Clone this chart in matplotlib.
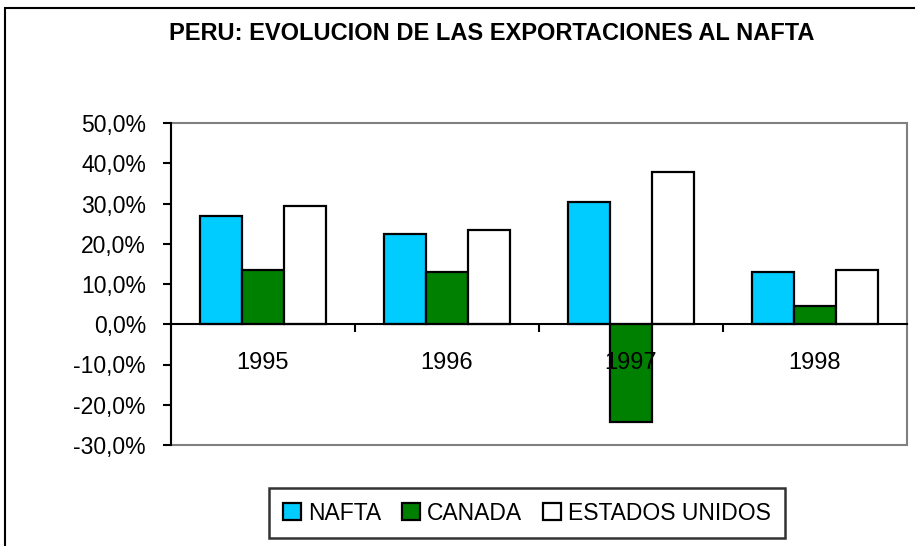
import matplotlib.pyplot as plt
from matplotlib.patches import Rectangle
from matplotlib.ticker import FuncFormatter, FixedLocator
import numpy as np

years = ["1995", "1996", "1997", "1998"]
nafta = [26.8, 22.3, 30.3, 12.9]
canada = [13.4, 12.9, -24.2, 4.5]
eeuu = [29.3, 23.3, 37.8, 13.4]

plt.rcParams['font.family'] = ['Liberation Sans', 'DejaVu Sans']

fig = plt.figure(figsize=(9.15, 5.46), dpi=100)
# outer chart frame (cut off at right/bottom like the original)
fig.patches.append(Rectangle((5/915, -0.1), 1.2, 1 - 8/546 + 0.1, transform=fig.transFigure,
                             fill=False, edgecolor='black', linewidth=1.5))

ax = fig.add_axes([171/915, 1 - 445/546, 736/915, 322/546])

x = np.arange(len(years))
w = 0.228
lw = 1.6
ax.bar(x - w, nafta, w, color='#00CCFF', edgecolor='black', linewidth=lw, zorder=3, label='NAFTA')
ax.bar(x, canada, w, color='#008000', edgecolor='black', linewidth=lw, zorder=3, label='CANADA')
ax.bar(x + w, eeuu, w, color='white', edgecolor='black', linewidth=lw, zorder=3, label='ESTADOS UNIDOS')

ax.set_xlim(-0.5, 3.5)
ax.set_ylim(-30, 50)
ax.set_yticks(np.arange(-30, 51, 10))
ax.yaxis.set_major_formatter(FuncFormatter(lambda v, p: ("%.1f%%" % v).replace(".", ",")))

# gray plot frame
ax.add_patch(Rectangle((0, 0), 1, 1, transform=ax.transAxes, fill=False,
                       edgecolor='#808080', linewidth=1.5, zorder=0, clip_on=False))
for s in ['top', 'right']:
    ax.spines[s].set_visible(False)
ax.spines['left'].set_linewidth(1.5)
ax.spines['bottom'].set_position(('data', 0))
ax.spines['bottom'].set_linewidth(1.5)
ax.spines['bottom'].set_zorder(4)

ax.set_xticks(x)
ax.set_xticklabels(years)
ax.xaxis.set_minor_locator(FixedLocator([0.5, 1.5, 2.5]))
ax.tick_params(axis='x', which='major', length=0, pad=20, labelsize=17)
ax.tick_params(axis='x', which='minor', length=6, width=1.5, direction='out')
ax.tick_params(axis='y', length=6, width=1.5, direction='out', labelsize=16.5, pad=12)
ax.xaxis.set_zorder(4)

fig.text(492/915, 1 - 34/546, "PERU: EVOLUCION DE LAS EXPORTACIONES AL NAFTA",
         ha='center', va='center', fontsize=17, fontweight='bold')

leg = fig.legend(loc='center', bbox_to_anchor=(527/915, 1 - 513/546), ncol=3, fontsize=16.5,
                 frameon=True, fancybox=False, edgecolor='black', handlelength=0.8,
                 handleheight=0.75, handletextpad=0.3, columnspacing=0.9, borderpad=0.6,
                 borderaxespad=0)
leg.get_frame().set_linewidth(1.8)

fig.savefig("out.png", dpi=100)
